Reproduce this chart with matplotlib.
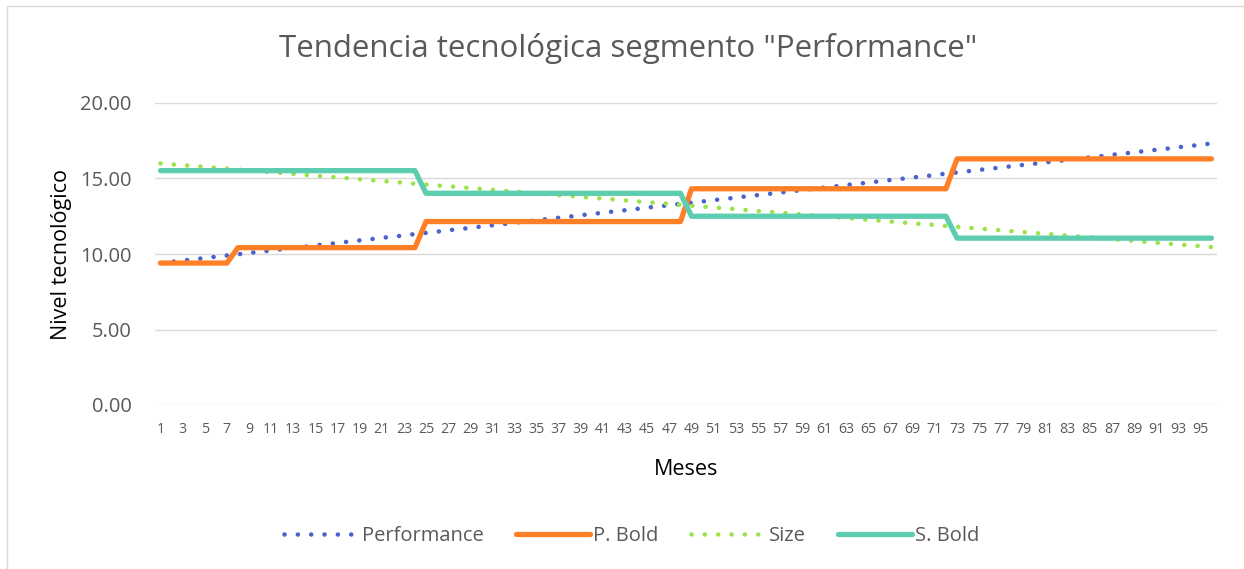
import matplotlib
matplotlib.use("Agg")
import matplotlib.pyplot as plt
from matplotlib.patches import Rectangle

plt.rcParams['font.family'] = ['Open Sans', 'DejaVu Sans']

months = list(range(1, 97))
x_tick_labels = [str(m) for m in range(1, 97, 2)]

performance = [
    9.40, 9.48, 9.57, 9.65, 9.73, 9.82, 9.90, 9.98, 10.07, 10.15, 10.23, 10.32,
    10.40, 10.48, 10.57, 10.65, 10.73, 10.82, 10.90, 10.98, 11.07, 11.15, 11.23, 11.32,
    11.40, 11.48, 11.57, 11.65, 11.73, 11.82, 11.90, 11.98, 12.07, 12.15, 12.23, 12.32,
    12.40, 12.48, 12.57, 12.65, 12.73, 12.82, 12.90, 12.98, 13.07, 13.15, 13.23, 13.32,
    13.40, 13.48, 13.57, 13.65, 13.73, 13.82, 13.90, 13.98, 14.07, 14.15, 14.23, 14.32,
    14.40, 14.48, 14.57, 14.65, 14.73, 14.82, 14.90, 14.98, 15.07, 15.15, 15.23, 15.32,
    15.40, 15.48, 15.57, 15.65, 15.73, 15.82, 15.90, 15.98, 16.07, 16.15, 16.23, 16.32,
    16.40, 16.48, 16.57, 16.65, 16.73, 16.82, 16.90, 16.98, 17.07, 17.15, 17.23, 17.32,
]

p_bold = [9.40] * 7 + [10.42] * 17 + [12.15] * 24 + [14.32] * 24 + [16.30] * 24

size = [
    16.00, 15.94, 15.88, 15.83, 15.77, 15.71, 15.65, 15.59, 15.53, 15.48, 15.42, 15.36,
    15.30, 15.24, 15.18, 15.13, 15.07, 15.01, 14.95, 14.89, 14.83, 14.78, 14.72, 14.66,
    14.60, 14.54, 14.48, 14.43, 14.37, 14.31, 14.25, 14.19, 14.13, 14.08, 14.02, 13.96,
    13.90, 13.84, 13.78, 13.73, 13.67, 13.61, 13.55, 13.49, 13.43, 13.38, 13.32, 13.26,
    13.20, 13.14, 13.08, 13.03, 12.97, 12.91, 12.85, 12.79, 12.73, 12.68, 12.62, 12.56,
    12.50, 12.44, 12.38, 12.33, 12.27, 12.21, 12.15, 12.09, 12.03, 11.98, 11.92, 11.86,
    11.80, 11.74, 11.68, 11.63, 11.57, 11.51, 11.45, 11.39, 11.33, 11.28, 11.22, 11.16,
    11.10, 11.04, 10.98, 10.93, 10.87, 10.81, 10.75, 10.69, 10.63, 10.58, 10.52, 10.46,
]

s_bold = [15.52] * 24 + [14.02] * 24 + [12.50] * 24 + [11.05] * 24

y_ticks = [0, 5, 10, 15, 20]

W, H = 1244, 569
fig = plt.figure(figsize=(W / 100, H / 100), dpi=100)
fig.patch.set_facecolor('white')

# chart border
fig.add_artist(Rectangle((7 / W, -0.05), 1.2, 1 - 6 / H + 0.05, transform=fig.transFigure,
                         fill=False, edgecolor='#D9D9D9', linewidth=1.0))

left, right, top, bottom = 155, 1217, 103, 405
ax = fig.add_axes([left / W, 1 - bottom / H, (right - left) / W, (bottom - top) / H])

dot_lw = 3.3
dot_style = (0, (0.01, 2.9))
ax.plot(months, performance, color='#4A62CF', lw=dot_lw, linestyle=dot_style,
        dash_capstyle='round', label='Performance', zorder=3)
ax.plot(months, p_bold, color='#FF7F27', lw=3.8, solid_joinstyle='round',
        solid_capstyle='round', label='P. Bold', zorder=4)
ax.plot(months, size, color='#9BE34A', lw=dot_lw, linestyle=dot_style,
        dash_capstyle='round', label='Size', zorder=3)
ax.plot(months, s_bold, color='#5CCDAF', lw=3.8, solid_joinstyle='round',
        solid_capstyle='round', label='S. Bold', zorder=4)

ax.set_xlim(0.5, 96.5)
ax.set_ylim(0, 20)
ax.set_yticks(y_ticks)
ax.set_yticklabels([f"{v:.2f}" for v in y_ticks])
ax.set_xticks(range(1, 97, 2))
ax.set_xticklabels(x_tick_labels)
ax.grid(axis='y', color='#D9D9D9', linewidth=1.0)
ax.set_axisbelow(True)
for s in ['top', 'right', 'left', 'bottom']:
    ax.spines[s].set_visible(False)
ax.tick_params(axis='both', length=0, colors='#595959')
ax.tick_params(axis='y', labelsize=14.5, pad=17)
ax.tick_params(axis='x', labelsize=10.2, pad=12)

ax.set_ylabel('Nivel tecnológico', fontsize=15.5, color='black', labelpad=6)
ax.set_xlabel('Meses', fontsize=15.5, color='black', labelpad=16)

fig.text(628 / W, 1 - 48 / H, 'Tendencia tecnológica segmento "Performance"',
         ha='center', va='center', fontsize=22.5, color='#595959')

leg = fig.legend(loc='center', bbox_to_anchor=(632 / W, 1 - 536 / H), ncol=4,
                 frameon=False, fontsize=14.5, labelcolor='#595959',
                 handlelength=3.7, handletextpad=0.15, columnspacing=1.6)

fig.savefig('out.png', dpi=100)
